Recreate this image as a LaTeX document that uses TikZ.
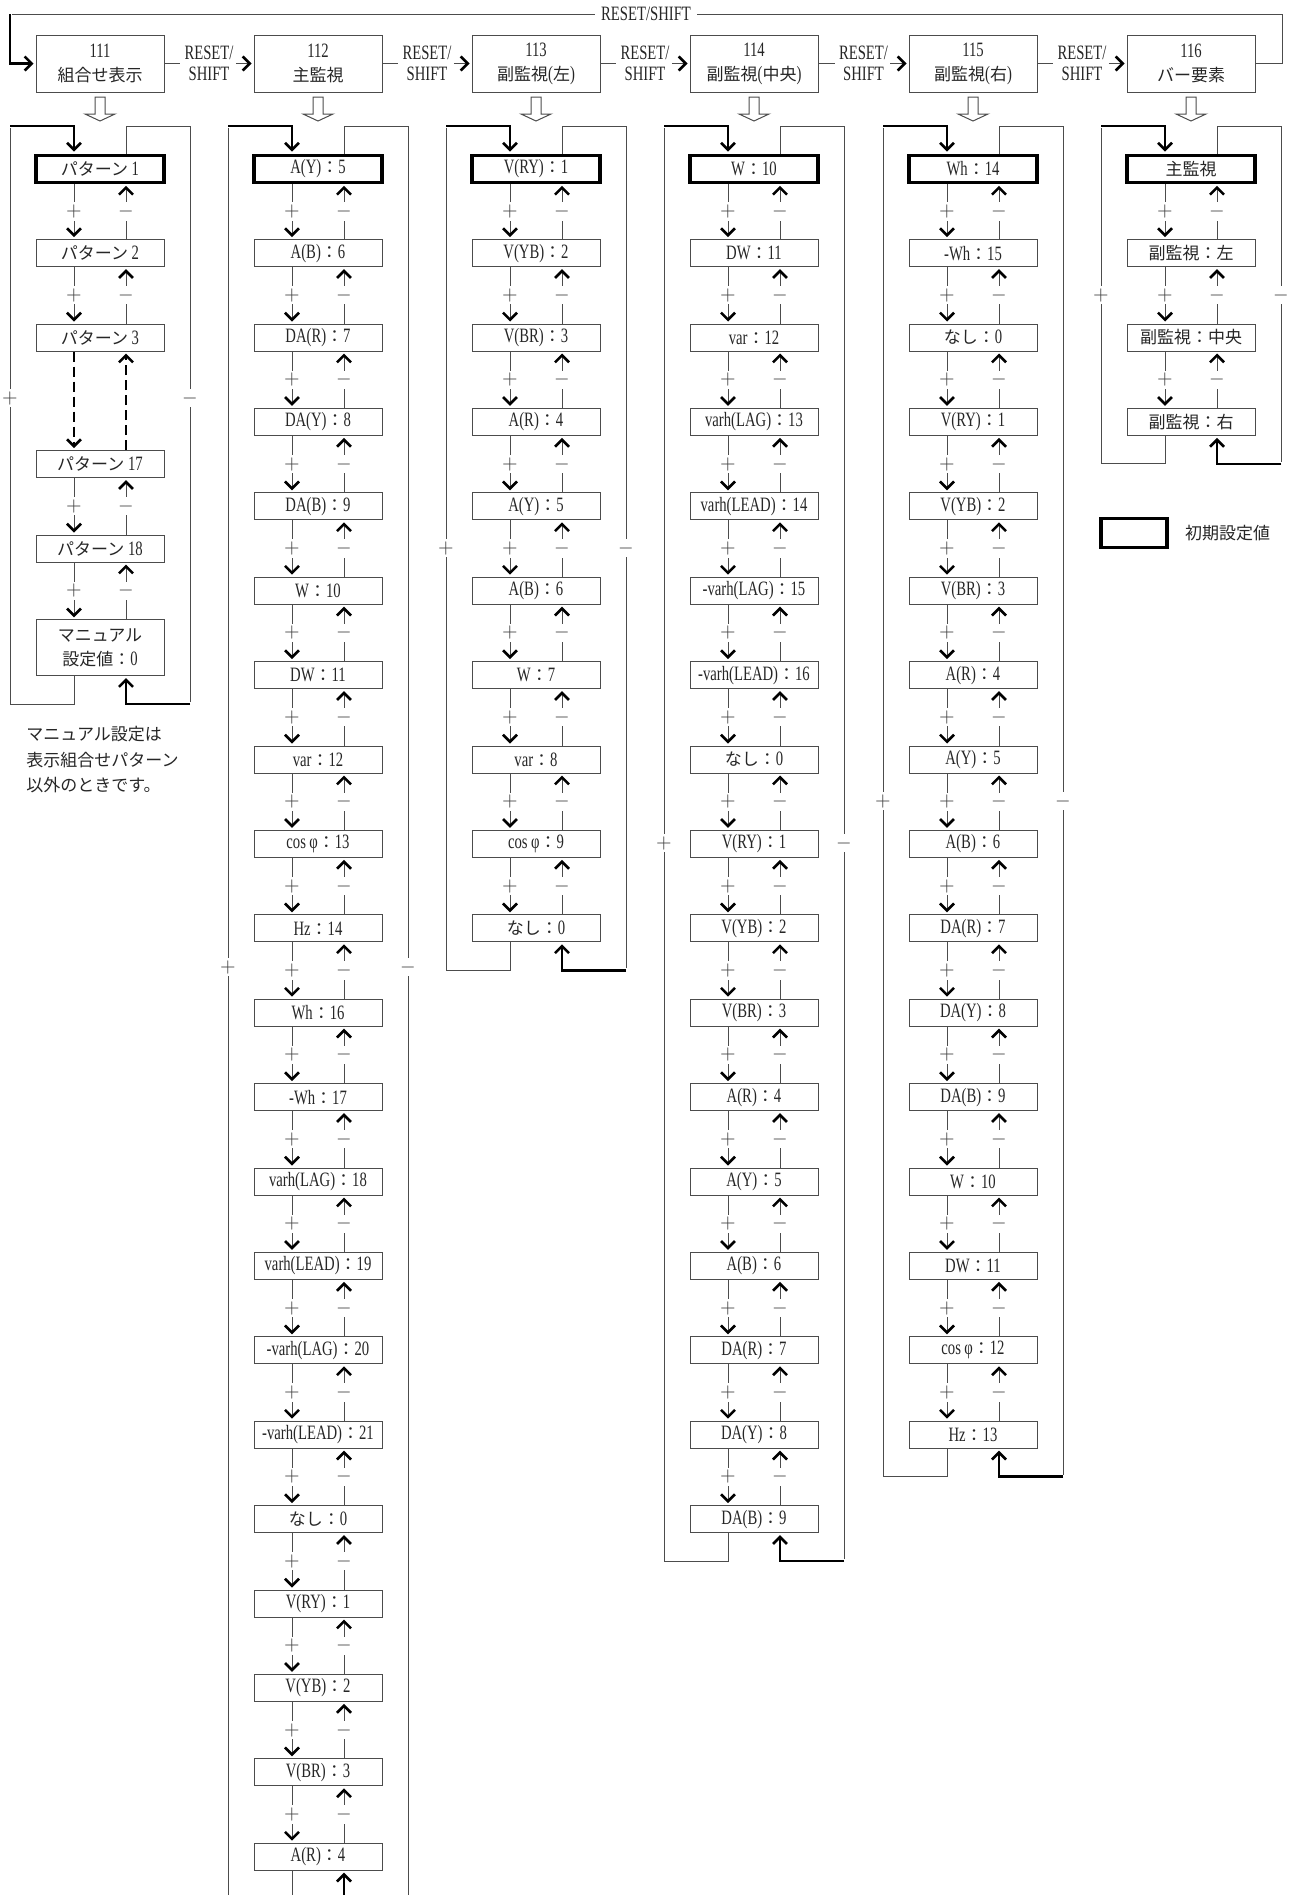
\documentclass[tikz,border=0pt]{standalone}
\usepackage{fontspec}
\setmainfont{Liberation Serif}[Scale=1.2, FakeStretch=0.72]
\newfontfamily\jpfont{Noto Sans CJK JP}
\newcommand{\jc}{{\jpfont ：}}
\usetikzlibrary{arrows.meta, calc, positioning}

\begin{document}
\begin{tikzpicture}[
  x=0.5pt, y=-0.5pt, font=\fontsize{8.5}{12}\selectfont,
  >={Straight Barb[length=3.5pt, width=7pt, line width=1.3pt 0, color=black]},
  conn/.style={draw=black!70, line width=0.5pt, shorten >=1pt},
  loopline/.style={draw=black, line width=1.3pt, shorten >=1pt},
  hbox/.style={draw=black!70, line width=0.5pt, minimum width=64pt, minimum height=28.5pt,
               inner sep=0pt, align=center, text=black!85},
  item/.style={draw=black!70, line width=0.5pt, minimum width=64pt, minimum height=13.5pt,
               inner sep=0pt, align=center, text=black!85},
  init/.style={item, draw=black, line width=1.6pt},
  rs/.style={inner sep=1pt, align=center, text=black!85, font=\fontsize{8.5}{10.5}\selectfont},
  pm/.style={fill=white, inner sep=1.2pt, text=black!75, font=\fontsize{10}{12}\selectfont},
  hollow/.style={draw=black!70, fill=white, line width=0.5pt}]
  \useasboundingbox (0,0) rectangle (1290,1895);
  \clip (0,0) rectangle (1290,1895);
  % mode boxes
  \node[hbox] (h1) at (100,63.5)  {111\\{\jpfont 組合せ表示}};
  \node[hbox] (h2) at (318,63.5)  {112\\{\jpfont 主監視}};
  \node[hbox] (h3) at (536,63.5)  {113\\{\jpfont 副監視}({\jpfont 左})};
  \node[hbox] (h4) at (754,63.5)  {114\\{\jpfont 副監視}({\jpfont 中央})};
  \node[hbox] (h5) at (973,63.5)  {115\\{\jpfont 副監視}({\jpfont 右})};
  \node[hbox] (h6) at (1191,63.5) {116\\{\jpfont バー要素}};
  % RESET/SHIFT between modes
  \foreach \a/\b in {1/2, 2/3, 3/4, 4/5, 5/6} {
    \node[rs] (rs\a) at ($(h\a.east)!0.5!(h\b.west)$) {RESET/\\SHIFT};
    \draw[conn] (h\a) -- (rs\a);
    \draw[conn, ->] (rs\a) -- (h\b);
  }
  \coordinate (topR) at (1282,14);
  \coordinate (topL) at (10,14);
  \draw[conn] (h6) -| (topR) -- node[fill=white, inner sep=3pt, text=black!85]{RESET/SHIFT} (topL);
  \draw[loopline, ->] (topL) |- (h1);
  % hollow arrows below the mode boxes
  \foreach \cx in {100,318,536,754,973,1191}
    \draw[hollow] ({\cx-5},97) -- ({\cx+5},97) -- ({\cx+5},114) -- ({\cx+15},114)
      -- (\cx,121) -- ({\cx-15},114) -- ({\cx-5},114) -- cycle;

  % 111 patterns
  \node[init] (p0) at (100,168.7) {{\jpfont パターン} 1};
  \node[item] (p1) at (100,253.1) {{\jpfont パターン} 2};
  \node[item] (p2) at (100,337.5) {{\jpfont パターン} 3};
  \node[item] (p3) at (100,464.1) {{\jpfont パターン} 17};
  \node[item] (p4) at (100,548.5) {{\jpfont パターン} 18};
  \node[item, anchor=north, minimum height=27.8pt] (p5) at (100,619.4)
    {{\jpfont マニュアル}\\{\jpfont 設定値}\jc 0};
  % 112 main
  \node[init] (m0) at (318,168.7) {A(Y)\jc 5};
  \foreach \txt [count=\row] in {A(B)\jc 6, DA(R)\jc 7, DA(Y)\jc 8, DA(B)\jc 9, W\jc 10,
      DW\jc 11, var\jc 12, cos\,φ\jc 13, Hz\jc 14, Wh\jc 16, -Wh\jc 17, varh(LAG)\jc 18,
      varh(LEAD)\jc 19, -varh(LAG)\jc 20, -varh(LEAD)\jc 21, {\jpfont なし}\jc 0,
      V(RY)\jc 1, V(YB)\jc 2, V(BR)\jc 3, A(R)\jc 4}
    \node[item] (m\row) at (318,{168.7+84.4*\row}) {\txt};
  % 113 sub left
  \node[init] (l0) at (536,168.7) {V(RY)\jc 1};
  \foreach \txt [count=\row] in {V(YB)\jc 2, V(BR)\jc 3, A(R)\jc 4, A(Y)\jc 5, A(B)\jc 6,
      W\jc 7, var\jc 8, cos\,φ\jc 9, {\jpfont なし}\jc 0}
    \node[item] (l\row) at (536,{168.7+84.4*\row}) {\txt};
  % 114 sub centre
  \node[init] (c0) at (754,168.7) {W\jc 10};
  \foreach \txt [count=\row] in {DW\jc 11, var\jc 12, varh(LAG)\jc 13, varh(LEAD)\jc 14,
      -varh(LAG)\jc 15, -varh(LEAD)\jc 16, {\jpfont なし}\jc 0, V(RY)\jc 1, V(YB)\jc 2,
      V(BR)\jc 3, A(R)\jc 4, A(Y)\jc 5, A(B)\jc 6, DA(R)\jc 7, DA(Y)\jc 8, DA(B)\jc 9}
    \node[item] (c\row) at (754,{168.7+84.4*\row}) {\txt};
  % 115 sub right
  \node[init] (r0) at (973,168.7) {Wh\jc 14};
  \foreach \txt [count=\row] in {-Wh\jc 15, {\jpfont なし}\jc 0, V(RY)\jc 1, V(YB)\jc 2,
      V(BR)\jc 3, A(R)\jc 4, A(Y)\jc 5, A(B)\jc 6, DA(R)\jc 7, DA(Y)\jc 8, DA(B)\jc 9,
      W\jc 10, DW\jc 11, cos\,φ\jc 12, Hz\jc 13}
    \node[item] (r\row) at (973,{168.7+84.4*\row}) {\txt};
  % 116 bar
  \node[init] (s0) at (1191,168.7) {\jpfont 主監視};
  \node[item] (s1) at (1191,253.1) {\jpfont 副監視：左};
  \node[item] (s2) at (1191,337.5) {\jpfont 副監視：中央};
  \node[item] (s3) at (1191,421.9) {\jpfont 副監視：右};

  % +/- steps
  \foreach \col/\last in {m/19, l/8, c/15, r/14, s/2}
    \foreach \row [count=\nxt] in {0,...,\last} {
      \draw[conn, ->] ([xshift=-13pt]\col\row.south) -- node[pm]{$+$} ([xshift=-13pt]\col\nxt.north);
      \draw[conn, ->] ([xshift=13pt]\col\nxt.north) -- node[pm]{$-$} ([xshift=13pt]\col\row.south);
    }
  \foreach \row/\nxt in {0/1, 1/2, 3/4, 4/5} {
    \draw[conn, ->] ([xshift=-13pt]p\row.south) -- node[pm]{$+$} ([xshift=-13pt]p\nxt.north);
    \draw[conn, ->] ([xshift=13pt]p\nxt.north) -- node[pm]{$-$} ([xshift=13pt]p\row.south);
  }
  \draw[loopline, dash pattern=on 5pt off 2.5pt, ->] ([xshift=-13pt]p2.south) -- ([xshift=-13pt]p3.north);
  \draw[loopline, dash pattern=on 5pt off 2.5pt, ->] ([xshift=13pt]p3.north) -- ([xshift=13pt]p2.south);

  % wrap-around of each list
  \foreach \col/\cx/\last/\ym in {p/100/5/398, m/318/20/967, l/536/9/548,
                                 c/754/16/843, r/973/15/801, s/1191/3/295} {
    \coordinate (\col LT) at ({\cx-90},126);
    \coordinate (\col RT) at ({\cx+90},126);
    \coordinate (\col TL) at ({\cx-26},126);
    \coordinate (\col TR) at ({\cx+26},126);
    \coordinate (\col BL) at ([xshift=-13pt,yshift=-14pt]\col\last.south);
    \coordinate (\col BR) at ([xshift=13pt,yshift=-14pt]\col\last.south);
    \draw[conn] ([xshift=-13pt]\col\last.south) -- (\col BL) -- (\col BL -| \col LT) -- (\col LT);
    \draw[loopline, ->] (\col LT) -- (\col TL) -- ([xshift=-13pt]\col0.north);
    \draw[conn] ([xshift=13pt]\col0.north) -- (\col TR) -- (\col RT) -- (\col RT |- \col BR);
    \draw[loopline, ->] (\col RT |- \col BR) -- (\col BR) -- ([xshift=13pt]\col\last.south);
    \node[pm] at ({\cx-90},\ym) {$+$};
    \node[pm] at ({\cx+90},\ym) {$-$};
  }

  % note and legend
  \node[align=left, anchor=west, text=black!85, font=\fontsize{8.5}{12.75}\selectfont] (memo)
    at (18,760) {\jpfont マニュアル設定は\\\jpfont 表示組合せパターン\\\jpfont 以外のときです。};
  \node[init, minimum width=33pt, minimum height=14.5pt] (key) at (1134,533) {};
  \node[right=7pt of key, inner sep=1pt, text=black!85] (keytext) {\jpfont 初期設定値};
\end{tikzpicture}
\end{document}
